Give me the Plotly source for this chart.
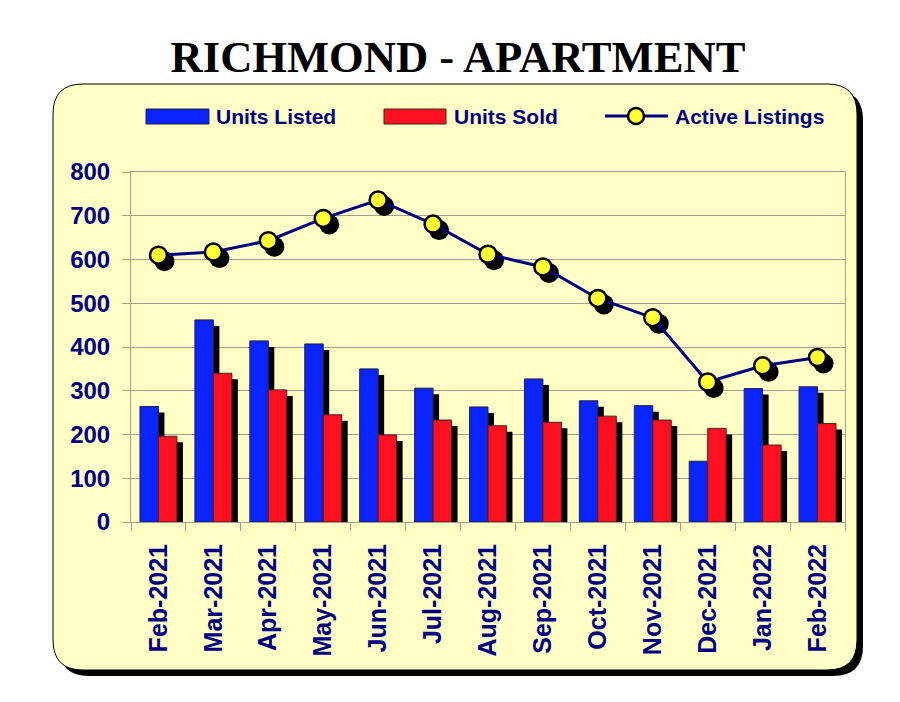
import plotly.graph_objects as go

months = ["Feb-2021", "Mar-2021", "Apr-2021", "May-2021", "Jun-2021", "Jul-2021", "Aug-2021",
          "Sep-2021", "Oct-2021", "Nov-2021", "Dec-2021", "Jan-2022", "Feb-2022"]
units_listed = [264, 462, 414, 407, 350, 306, 263, 327, 277, 266, 139, 305, 309]
units_sold = [196, 340, 302, 245, 199, 233, 220, 228, 242, 233, 214, 176, 225]
active_listings = [610, 617, 643, 694, 736, 681, 612, 583, 511, 467, 320, 357, 376]

W, H = 900, 702
L, R, T, B = 131, 845, 172, 522  # plot area in pixels
NAVY = "#000080"
GRID = "#a0a090"
BLUE = "#0a24ff"
RED = "#ff1020"
YMAX = 800
SHIFT = 6  # drop shadow offset, px


# paper coords are fractions of the plot area, not of the page
def px(x):
    return (x - L) / (R - L)


def py(y):
    return (B - y) / (B - T)


def rounded(x0, y0, x1, y1, r):
    rx, ry = r / (R - L), r / (B - T)
    x0, x1 = px(x0), px(x1)
    y0, y1 = py(y0), py(y1)
    return (f"M {x0 + rx} {y0} L {x1 - rx} {y0} Q {x1} {y0} {x1} {y0 - ry} "
            f"L {x1} {y1 + ry} Q {x1} {y1} {x1 - rx} {y1} "
            f"L {x0 + rx} {y1} Q {x0} {y1} {x0} {y1 + ry} "
            f"L {x0} {y0 - ry} Q {x0} {y0} {x0 + rx} {y0} Z")


fig = go.Figure()

# shadows live on the hidden primary axes, shifted a few pixels right and down
fig.add_trace(go.Bar(x=months, y=units_listed, marker=dict(color="black", line=dict(width=0)), xaxis="x", yaxis="y", showlegend=False, hoverinfo="skip"))
fig.add_trace(go.Bar(x=months, y=units_sold, marker=dict(color="black", line=dict(width=0)), xaxis="x", yaxis="y", showlegend=False, hoverinfo="skip"))
fig.add_trace(go.Scatter(x=months, y=active_listings, mode="markers", marker=dict(color="black", size=20), xaxis="x", yaxis="y", showlegend=False, hoverinfo="skip"))

fig.add_trace(go.Bar(x=months, y=units_listed, name="Units Listed", marker=dict(color=BLUE, line=dict(color="#222244", width=1)), xaxis="x2", yaxis="y2"))
fig.add_trace(go.Bar(x=months, y=units_sold, name="Units Sold", marker=dict(color=RED, line=dict(color="#442222", width=1)), xaxis="x2", yaxis="y2"))
fig.add_trace(go.Scatter(x=months, y=active_listings, name="Active Listings", mode="lines+markers",
                         line=dict(color=NAVY, width=3),
                         marker=dict(color="#ffff33", size=17, line=dict(color="black", width=2.5)),
                         xaxis="x2", yaxis="y2"))

shapes = [
    dict(type="path", xref="paper", yref="paper", layer="below", path=rounded(59, 90, 863, 676, 30), fillcolor="black", line=dict(width=0)),
    dict(type="path", xref="paper", yref="paper", layer="below", path=rounded(53, 84, 857, 670, 30), fillcolor="#ffffc6", line=dict(color="black", width=1)),
    # legend swatches
    dict(type="rect", xref="paper", yref="paper", x0=px(146), x1=px(209), y0=py(109), y1=py(124), fillcolor=BLUE, line=dict(color="#222244", width=1)),
    dict(type="rect", xref="paper", yref="paper", x0=px(384), x1=px(446), y0=py(109), y1=py(124), fillcolor=RED, line=dict(color="#442222", width=1)),
    dict(type="line", xref="paper", yref="paper", x0=px(605), x1=px(668), y0=py(116), y1=py(116), line=dict(color=NAVY, width=3)),
    dict(type="circle", xref="paper", yref="paper", x0=px(628), x1=px(644), y0=py(108), y1=py(124), fillcolor="#ffff33", line=dict(color="black", width=2.5)),
]

legend_font = dict(family="Liberation Sans", size=21, color=NAVY)
annotations = [
    dict(text="<b>Units Listed</b>", x=px(215), y=py(117), xref="paper", yref="paper", xanchor="left", yanchor="middle", showarrow=False, font=legend_font, borderpad=0),
    dict(text="<b>Units Sold</b>", x=px(453), y=py(117), xref="paper", yref="paper", xanchor="left", yanchor="middle", showarrow=False, font=legend_font, borderpad=0),
    dict(text="<b>Active Listings</b>", x=px(674), y=py(117), xref="paper", yref="paper", xanchor="left", yanchor="middle", showarrow=False, font=legend_font, borderpad=0),
]

tick_font = dict(family="Liberation Sans", size=24, color=NAVY)
tick_labels = [f"<b>{m}</b>" for m in months]
y_ticks = list(range(0, YMAX + 1, 100))

fig.update_layout(
    width=W, height=H,
    margin=dict(l=L, r=W - R, t=T, b=H - B),
    paper_bgcolor="white", plot_bgcolor="rgba(0,0,0,0)",
    barmode="group", bargap=0.327, bargroupgap=0,
    showlegend=False,
    title=dict(text="<b>RICHMOND - APARTMENT</b>", x=458 / W, xanchor="center", y=1 - 56 / H, yanchor="middle",
               font=dict(family="Liberation Serif", size=44.6, color="black")),
    shapes=shapes, annotations=annotations,
    xaxis=dict(visible=False, type="category", categoryorder="array", categoryarray=months,
               range=[-0.5 - SHIFT / 55, 12.5 - SHIFT / 55]),
    yaxis=dict(visible=False, range=[SHIFT / 0.4375, YMAX + SHIFT / 0.4375]),
    xaxis2=dict(overlaying="x", type="category", categoryorder="array", categoryarray=months, range=[-0.5, 12.5],
                tickson="boundaries", ticks="outside", ticklen=8, tickcolor=GRID, tickwidth=1,
                showline=True, mirror=True, linecolor=GRID, linewidth=1, showgrid=False, ticklabelstandoff=11,
                tickmode="array", tickvals=months, ticktext=tick_labels, tickangle=-90,
                tickfont=dict(family="Liberation Sans", size=25, color=NAVY), anchor="y2"),
    yaxis2=dict(overlaying="y", range=[0, YMAX], tickmode="array", tickvals=y_ticks, ticktext=[f"<b>{v}</b>" for v in y_ticks],
                ticks="outside", ticklen=8, tickcolor=GRID, tickwidth=1, showline=True, mirror=True, linecolor=GRID, linewidth=1,
                showgrid=True, gridcolor=GRID, gridwidth=1, zeroline=False, tickfont=tick_font, anchor="x2", side="left",
                ticklabelstandoff=7),
)

fig.write_html("out.html", config=dict(displayModeBar=False), post_script="document.body.style.margin='0';")
